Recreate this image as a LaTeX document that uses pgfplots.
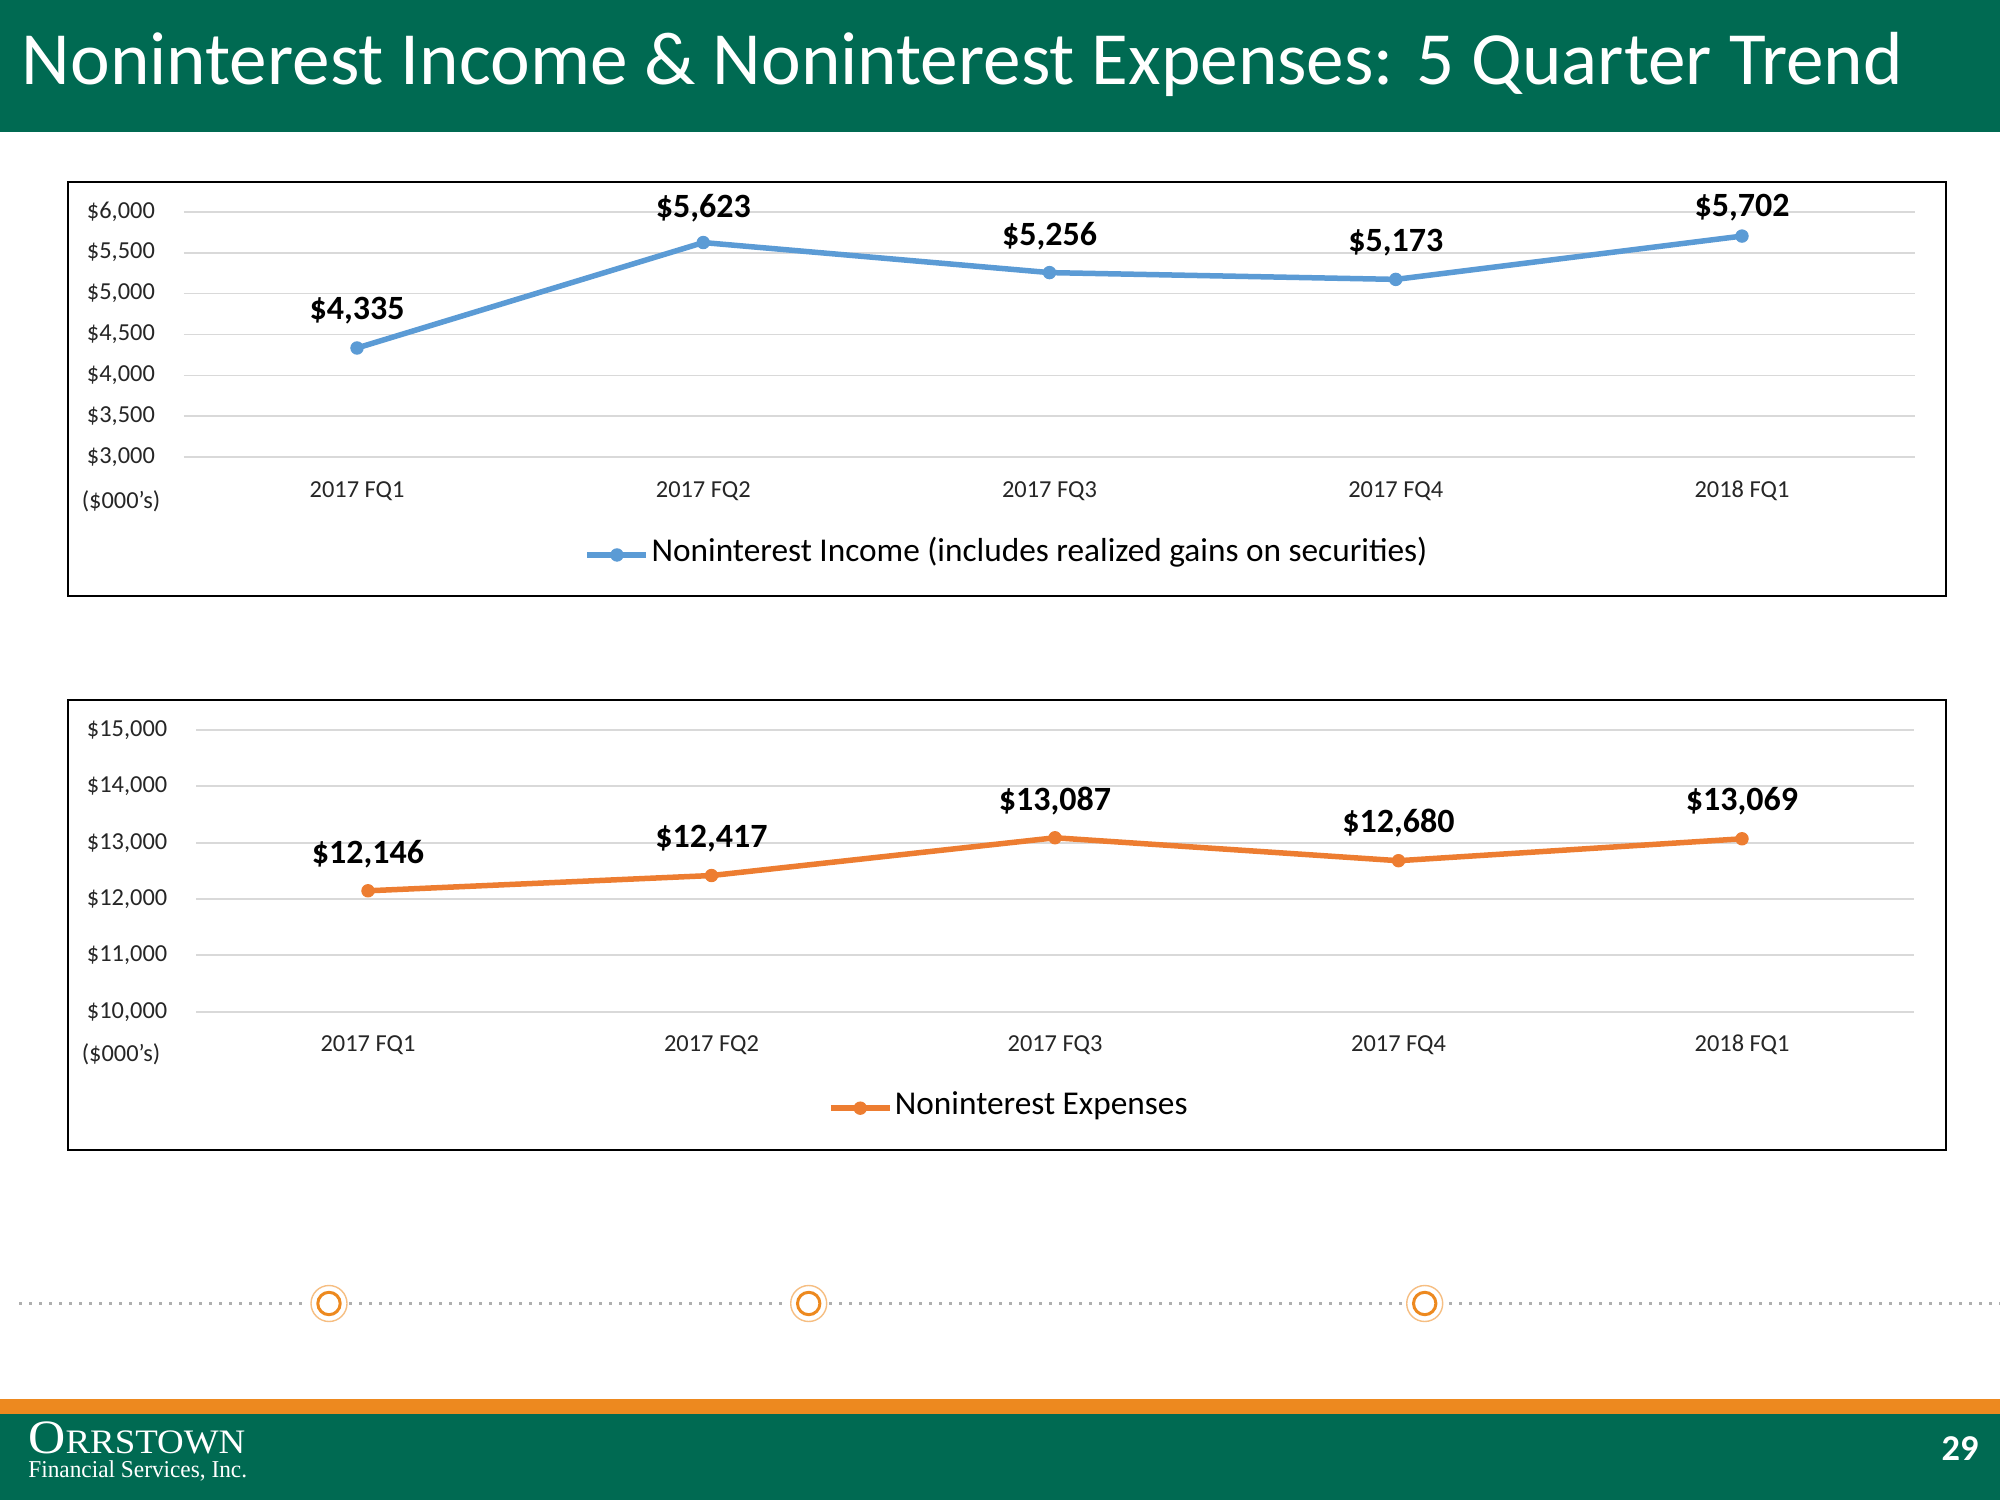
\documentclass[border=0pt]{standalone}
\usepackage{graphicx}
\usepackage{pgfplots}
\pgfplotsset{compat=1.18}
\usepackage{pgfplotstable}
\usepackage{fontspec}
\setmainfont{Carlito}
\newfontfamily\logofont{Liberation Serif}
\definecolor{brandgreen}{RGB}{0,106,82}
\definecolor{brandorange}{RGB}{237,137,31}
\definecolor{ringlight}{RGB}{246,190,130}
\definecolor{dotgray}{RGB}{175,175,175}
\definecolor{gridgray}{RGB}{217,217,217}
\definecolor{lineblue}{RGB}{91,155,213}
\definecolor{lineorange}{RGB}{237,125,49}
\definecolor{tickcol}{RGB}{38,38,38}

\pgfplotstableread{
x y dy
0 4335 14.1
1 5623 12.6
2 5256 13.6
3 5173 13.8
4 5702 10.0
}\incometable
\pgfplotstableread{
x y dy
0 12146 13.7
1 12417 14.0
2 13087 13.7
3 12680 14.2
4 13069 14.1
}\expensetable

\pgfplotsset{
 slide/.style={
   scale only axis, anchor=south west, clip=false,
   xmin=-0.5, xmax=4.5,
   scaled y ticks=false,
   axis line style={draw=none}, major tick length=0pt, tick style={draw=none},
   ymajorgrids, grid style={line width=0.9pt, gridgray},
   xtick={0,1,2,3,4},
   xticklabels={2017 FQ1,2017 FQ2,2017 FQ3,2017 FQ4,2018 FQ1},
   ticklabel style={font=\fontsize{12.2}{14}\selectfont, text=tickcol, inner sep=0pt},
   xticklabel style={anchor=base, yshift=-20.1pt},
   yticklabel style={anchor=east, xshift=-14.3pt, text height=0.632em, text depth=0pt},
   /pgf/number format/assume math mode=true,
   point meta=y,
   nodes near coords={\$\pgfmathprintnumber[fixed,precision=0,1000 sep={,}]{\pgfplotspointmeta}},
   visualization depends on={\thisrow{dy} \as \labeldy},
   every node near coord/.append style={font=\fontsize{17}{20}\selectfont\bfseries, text=black, anchor=base, inner sep=0pt, yshift=\labeldy pt},
   legend style={draw=none, fill=none, inner sep=0pt, anchor=west, font=\fontsize{16.65}{19}\selectfont, cells={anchor=base west}, nodes={inner sep=0pt}, column sep=1.2pt},
 },
 series/.style={line width=2.75pt, line join=round, mark=*, mark size=3.1pt, mark options={solid, line width=0.5pt}},
 legend image code/.code={\draw[#1, mark repeat=2, mark phase=2] plot coordinates {(0pt,3.2pt) (14.75pt,3.2pt) (29.5pt,3.2pt)};},
}

\begin{document}
\begin{tikzpicture}
\useasboundingbox (0,0) rectangle (1000pt,750pt);
\fill[white] (0,0) rectangle (1000pt,750pt);
% title bar
\fill[brandgreen] (0,684pt) rectangle (1000pt,750pt);
\node[anchor=base west, inner sep=0pt, text=white, font=\fontsize{37.6}{40}\selectfont] at (10.7pt,707.5pt) {Noninterest Income \& Noninterest Expenses: 5 Quarter Trend};
% footer
\fill[brandorange] (0,43pt) rectangle (1000pt,50.75pt);
\fill[brandgreen] (0,0) rectangle (1000pt,43pt);
\node[anchor=base west, inner sep=0pt, text=white] at (14pt,23.35pt) {\resizebox{108.5pt}{15.85pt}{\logofont\fontsize{48}{50}\selectfont O\fontsize{34.4}{36}\selectfont RRSTOWN}};
\node[anchor=base west, inner sep=0pt, text=white] at (14pt,11.4pt) {\resizebox{109.35pt}{8.4pt}{\logofont\fontsize{25}{27}\selectfont Financial Services, Inc.}};
\node[anchor=base east, inner sep=0pt, text=white, font=\fontsize{18.2}{20}\selectfont\bfseries] at (989.5pt,20pt) {29};
% dotted line with rings
\draw[dotgray, line width=1.3pt, dash pattern=on 1.3pt off 3.7pt] (9.5pt,98.25pt) -- (1000pt,98.25pt);
\foreach \cx in {164.5pt,404.35pt,712.35pt}{
  \fill[white] (\cx,98.25pt) circle (10pt);
  \draw[ringlight, line width=0.7pt] (\cx,98.25pt) circle (9pt);
  \draw[brandorange, line width=1.5pt] (\cx,98.25pt) circle (5.6pt);
}
% chart frames
\draw[black, line width=1pt] (33.8pt,452.15pt) rectangle (973pt,659.15pt);
\draw[black, line width=1pt] (33.8pt,175pt) rectangle (973pt,400pt);

% top chart
\begin{axis}[slide,
  at={(91.95pt,521.35pt)}, width=865.6pt, height=122.8pt,
  ymin=3000, ymax=6000,
  ytick={3000,3500,4000,4500,5000,5500,6000},
  yticklabels={{\$3,000},{\$3,500},{\$4,000},{\$4,500},{\$5,000},{\$5,500},{\$6,000}},
  legend style={at={(0.2313,-0.3803)}},
]
\addplot[series, color=lineblue] table[x=x, y=y] {\incometable};
\addlegendentry{Noninterest Income (includes realized gains on securities)}
\end{axis}
\node[anchor=base, inner sep=0pt, text=tickcol, font=\fontsize{12.2}{14}\selectfont] at (60.5pt,495.5pt) {(\$000’s)};

% bottom chart
\begin{axis}[slide,
  at={(98.125pt,244.15pt)}, width=858.75pt, height=140.85pt,
  ymin=10000, ymax=15000,
  ytick={10000,11000,12000,13000,14000,15000},
  yticklabels={{\$10,000},{\$11,000},{\$12,000},{\$13,000},{\$14,000},{\$15,000}},
  legend style={at={(0.3676,-0.3298)}},
]
\addplot[series, color=lineorange] table[x=x, y=y] {\expensetable};
\addlegendentry{Noninterest Expenses}
\end{axis}
\node[anchor=base, inner sep=0pt, text=tickcol, font=\fontsize{12.2}{14}\selectfont] at (60.5pt,219.25pt) {(\$000’s)};
\end{tikzpicture}
\end{document}
